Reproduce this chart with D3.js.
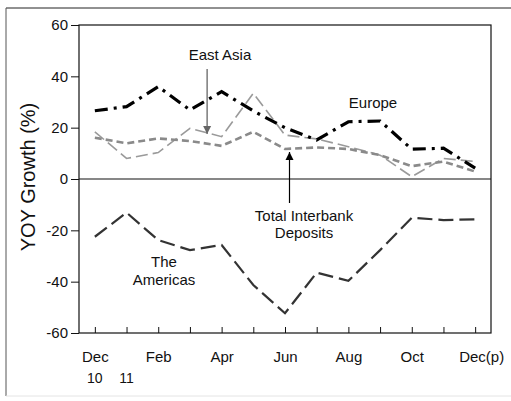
<!DOCTYPE html>
<html>
<head>
<meta charset="utf-8">
<script src="https://cdn.jsdelivr.net/npm/d3@7"></script>
<style>
  body { margin: 0; background: #fff; }
  svg { display: block; font-family: "Liberation Sans", Arial, sans-serif; }
</style>
</head>
<body>
<script>
// months Dec 2010 .. Dec 2011 (preliminary)
const months = ["Dec", "Jan", "Feb", "Mar", "Apr", "May", "Jun", "Jul", "Aug", "Sep", "Oct", "Nov", "Dec(p)"];
const tickLabels = ["Dec", "", "Feb", "", "Apr", "", "Jun", "", "Aug", "", "Oct", "", "Dec(p)"];
const yearLabels = ["10", "11"];
const yTicks = [-60, -40, -20, 0, 20, 40, 60];

const europe = [26.6, 28.2, 36, 26.9, 34, 26.5, 20, 15.2, 22.3, 22.6, 11.6, 12, 4.2];
const eastAsia = [18.4, 8, 10.3, 19.7, 16.5, 33.4, 17.1, 15.6, 12.6, 9.3, 0.9, 8, 6.8];
const totalDeposits = [16.1, 13.9, 15.8, 14.8, 12.9, 18.4, 11.7, 12.3, 11.7, 9.3, 5, 6.8, 2.9];
const americas = [-22.5, -13.1, -23.8, -27.7, -25.7, -41.3, -52.3, -36.5, -39.7, -27.7, -15.1, -16, -15.7];

const W = 511, H = 401;
const FONT = "Liberation Sans, Arial, sans-serif";
const svg = d3.select("body").append("svg").attr("width", W).attr("height", H);

// outer frame of the picture
svg.append("line").attr("x1", 6).attr("x2", W).attr("y1", 8).attr("y2", 8).attr("stroke", "#222").attr("stroke-width", 1);
svg.append("line").attr("x1", 6).attr("x2", 6).attr("y1", 8).attr("y2", 396).attr("stroke", "#555").attr("stroke-width", 1);
svg.append("line").attr("x1", 6).attr("x2", W).attr("y1", 396).attr("y2", 396).attr("stroke", "#e4e4e4").attr("stroke-width", 1);

const pLeft = 79, pRight = 491, pTop = 25, pBottom = 333;

const x = d3.scalePoint().domain(d3.range(months.length)).range([pLeft, pRight]).padding(0.5);
const y = d3.scaleLinear().domain([-60, 60]).range([pBottom, pTop]);

// plot frame
svg.append("rect").attr("x", pLeft).attr("y", pTop).attr("width", pRight - pLeft).attr("height", pBottom - pTop)
  .attr("fill", "none").attr("stroke", "#111").attr("stroke-width", 1.2);

// zero line
svg.append("line").attr("x1", pLeft).attr("x2", pRight).attr("y1", y(0)).attr("y2", y(0))
  .attr("stroke", "#111").attr("stroke-width", 1.2);

// y axis (plain hyphen for negatives)
const yAxis = svg.append("g").attr("transform", `translate(${pLeft},0)`)
  .call(d3.axisLeft(y).tickValues(yTicks).tickFormat(d => String(d)).tickSize(8).tickPadding(3));
yAxis.select(".domain").remove();
yAxis.selectAll("line").attr("stroke", "#111");
yAxis.selectAll("text").attr("font-size", 15).attr("fill", "#111").attr("font-family", FONT);

// x axis ticks (pointing up into the plot)
const xAxis = svg.append("g").attr("transform", `translate(0,${pBottom})`)
  .call(d3.axisBottom(x).tickSize(-6).tickFormat(i => tickLabels[i]).tickPadding(18));
xAxis.select(".domain").remove();
xAxis.selectAll("line").attr("stroke", "#111");
xAxis.selectAll("text").attr("font-size", 15).attr("fill", "#111").attr("font-family", FONT)
  .attr("dx", (d, i) => i === months.length - 1 ? 6 : 0);

// year labels under Dec and Jan
svg.selectAll(".year").data(yearLabels).enter().append("text")
  .attr("class", "year")
  .attr("x", (d, i) => x(i))
  .attr("y", 383)
  .attr("text-anchor", "middle")
  .attr("font-size", 14)
  .attr("fill", "#111")
  .text(d => d);

// axis title
svg.append("text")
  .attr("transform", `translate(35,177) rotate(-90)`)
  .attr("text-anchor", "middle")
  .attr("font-size", 20)
  .attr("fill", "#111")
  .text("YOY Growth (%)");

const line = d3.line().x((d, i) => x(i)).y(d => y(d));

const series = [
  { values: eastAsia, color: "#9a9a9a", width: 1.6, dash: "12,5" },
  { values: totalDeposits, color: "#8a8a8a", width: 2.6, dash: "7,4" },
  { values: europe, color: "#000", width: 3.2, dash: "13,6,3,6" },
  { values: americas, color: "#333", width: 2.2, dash: "15,6" }
];

svg.selectAll(".series").data(series).enter().append("path")
  .attr("class", "series")
  .attr("d", d => line(d.values))
  .attr("fill", "none")
  .attr("stroke", d => d.color)
  .attr("stroke-width", d => d.width)
  .attr("stroke-dasharray", d => d.dash);

// arrowheads
const defs = svg.append("defs");
[["arrGray", "#666"], ["arrBlack", "#000"]].forEach(([id, c]) => {
  defs.append("marker").attr("id", id).attr("viewBox", "0 0 10 10")
    .attr("refX", 10).attr("refY", 5).attr("markerWidth", 8).attr("markerHeight", 10)
    .attr("markerUnits", "userSpaceOnUse").attr("orient", "auto")
    .append("path").attr("d", "M0,0 L10,5 L0,10 Z").attr("fill", c);
});

function label(lines, cx, cy, lh) {
  const t = svg.append("text").attr("text-anchor", "middle").attr("font-size", 15).attr("fill", "#111");
  lines.forEach((s, i) => t.append("tspan").attr("x", cx).attr("y", cy + i * lh).text(s));
}

// East Asia annotation
label(["East Asia"], 220, 60, 0);
svg.append("line").attr("x1", x(4) - 14.5).attr("x2", x(4) - 14.5).attr("y1", 69).attr("y2", 134)
  .attr("stroke", "#666").attr("stroke-width", 1.3).attr("marker-end", "url(#arrGray)");

// Europe
label(["Europe"], 373, 108, 0);

// Total interbank deposits
label(["Total Interbank", "Deposits"], 304, 221, 16.5);
svg.append("line").attr("x1", x(6) + 4.5).attr("x2", x(6) + 4.5).attr("y1", 203).attr("y2", 152)
  .attr("stroke", "#000").attr("stroke-width", 1.2).attr("marker-end", "url(#arrBlack)");

// The Americas
label(["The", "Americas"], 164, 267, 18);
</script>
</body>
</html>
